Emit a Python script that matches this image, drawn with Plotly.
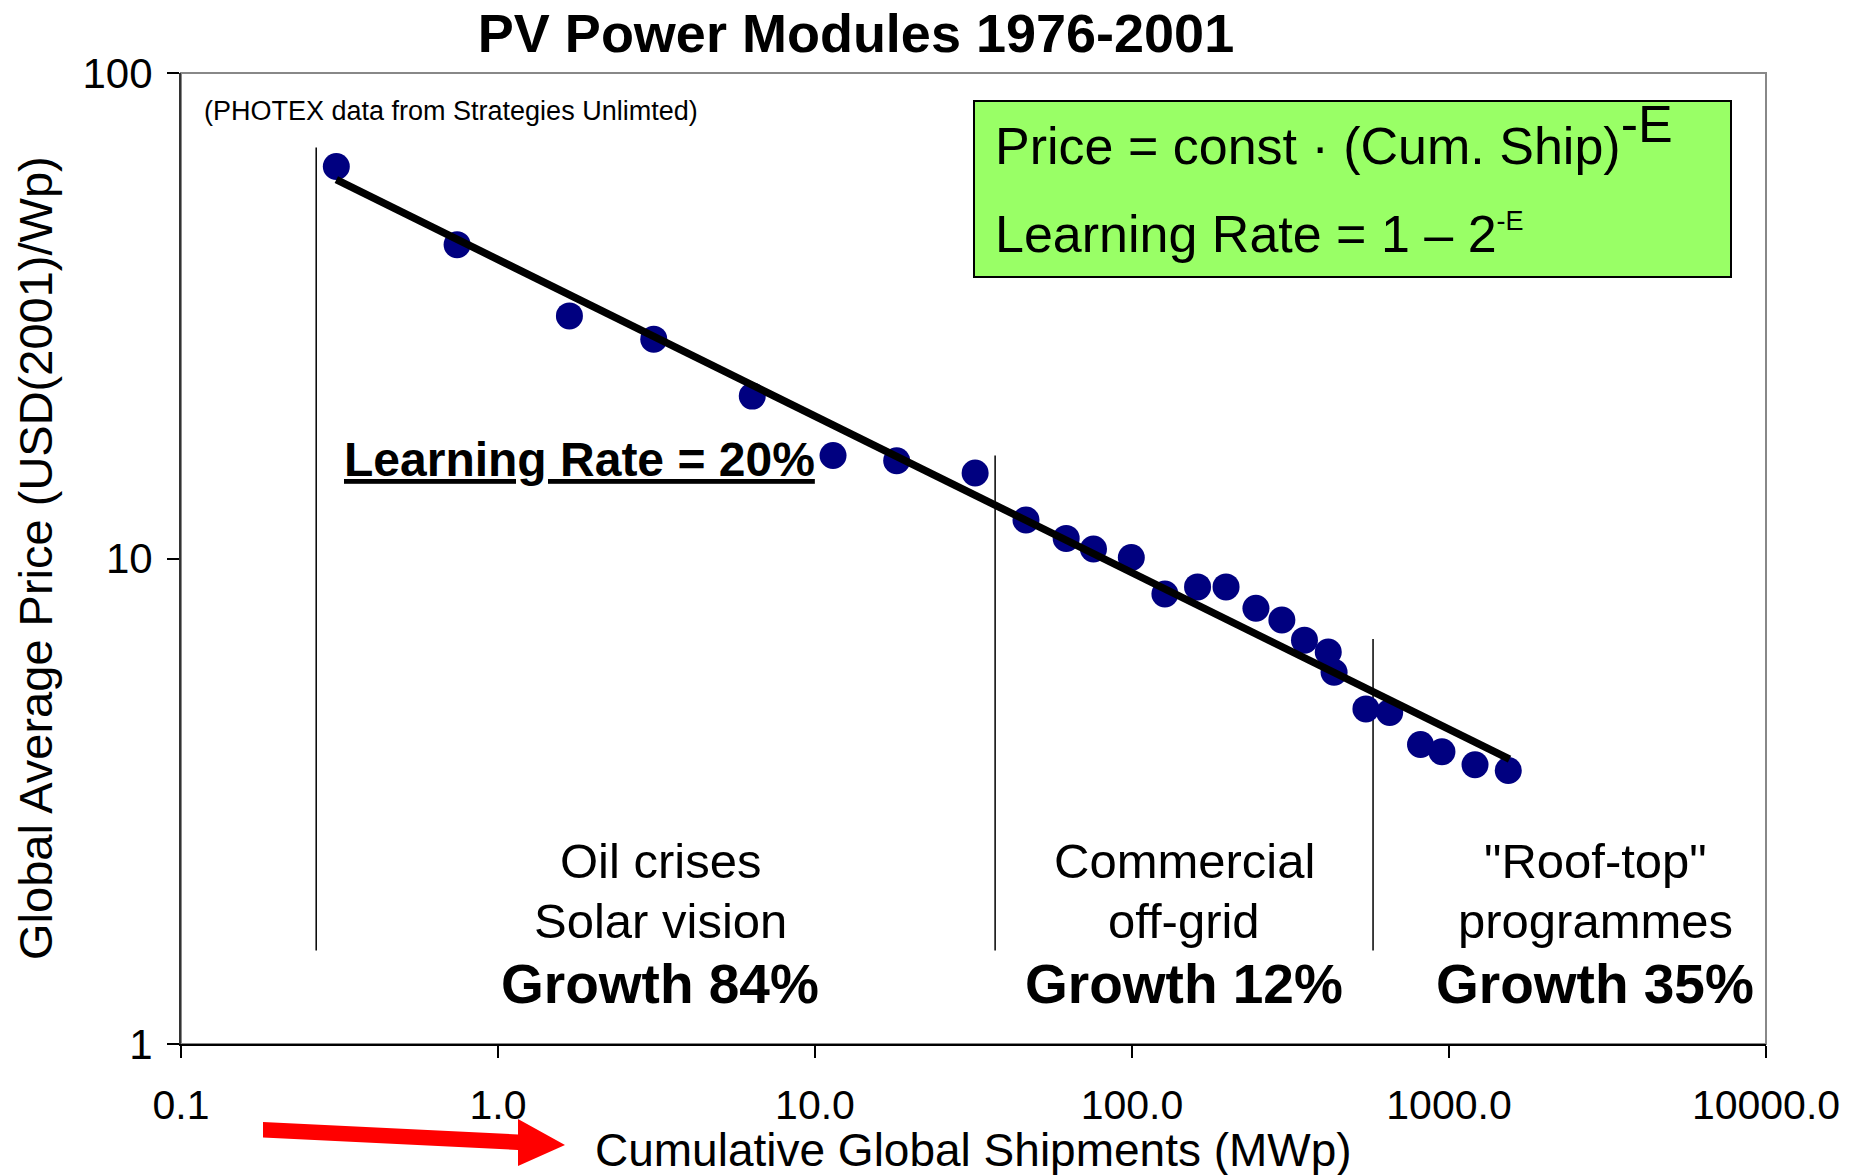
import plotly.graph_objects as go

# ---------------- data ----------------
cum_shipments_mwp = [0.309, 0.743, 1.68, 3.10, 6.34, 11.4, 18.1, 32.0, 46.3, 62.0,
                     75.6, 99.5, 127, 161, 198, 246, 297, 350, 416, 434,
                     547, 650, 813, 950, 1208, 1538]
price_usd_wp = [64.2, 44.3, 31.6, 28.3, 21.6, 16.3, 15.9, 15.0, 12.0, 11.0,
                10.46, 10.05, 8.45, 8.74, 8.74, 7.90, 7.47, 6.79, 6.42, 5.83,
                4.90, 4.82, 4.14, 4.00, 3.76, 3.66]

fit_x = [0.309, 1552]
fit_y = [60.3, 3.86]

phase_x = [0.267, 37.0, 576]
phase_top = [70.2, 16.3, 6.83]
phase_bottom = [1.558, 1.558, 1.558]

x_tickvals = [0.1, 1, 10, 100, 1000, 10000]
x_ticktext = ["0.1", "1.0", "10.0", "100.0", "1000.0", "10000.0"]
y_tickvals = [1, 10, 100]
y_ticktext = ["1", "10", "100"]

phase_lines1 = ["Oil crises", "Commercial", "\"Roof-top\""]
phase_lines2 = ["Solar vision", "off-grid", "programmes"]
phase_growth = ["Growth 84%", "Growth 12%", "Growth 35%"]

# ---------------- layout helpers ----------------
W, H = 1858, 1175
PL, PR, PT, PB = 181, 1766, 73, 1044
FONT = "Arial, Liberation Sans, sans-serif"


def px(fx):
    return (fx - PL) / (PR - PL)


def py(fy):
    return (PB - fy) / (PB - PT)


fig = go.Figure()

# phase boundary lines
for bx, bt, bb in zip(phase_x, phase_top, phase_bottom):
    fig.add_trace(go.Scatter(x=[bx, bx], y=[bb, bt], mode="lines",
                             line=dict(color="black", width=1.5),
                             showlegend=False, hoverinfo="skip"))

# data points
fig.add_trace(go.Scatter(x=cum_shipments_mwp, y=price_usd_wp, mode="markers",
                         marker=dict(color="#000080", size=27, line=dict(width=0)),
                         showlegend=False))

# fit line
fig.add_trace(go.Scatter(x=fit_x, y=fit_y, mode="lines",
                         line=dict(color="black", width=7.5),
                         showlegend=False))

annotations = []


def ann(text, fx, fy, size, xanchor="center", color="black"):
    annotations.append(dict(text=text, x=px(fx), y=py(fy), xref="paper", yref="paper",
                            xanchor=xanchor, yanchor="middle", showarrow=False,
                            font=dict(family=FONT, size=size, color=color)))


ann("(PHOTEX data from Strategies Unlimted)", 202, 111, 27, xanchor="left")
ann("Price = const · (Cum. Ship)<sup><span style='font-size:52px'>-E</span></sup>",
    993, 135, 52, xanchor="left")
ann("Learning Rate = 1 – 2<sup><span style='font-size:27px'>-E</span></sup>",
    993, 234, 52, xanchor="left")
ann("<b><u>Learning Rate = 20%</u></b>", 579, 460, 48)

block_cx = [660, 1184, 1595]
for cx, t1, t2, g in zip(block_cx, phase_lines1, phase_lines2, phase_growth):
    ann(t1, cx, 861, 49)
    ann(t2, cx, 921, 49)
    ann("<b>" + g + "</b>", cx, 984, 55)

# axis titles
ann("Cumulative Global Shipments (MWp)", 973, 1150, 46)
annotations.append(dict(text="Global Average Price (USD(2001)/Wp)", x=px(35), y=py(558),
                        xref="paper", yref="paper", xanchor="center", yanchor="middle",
                        textangle=-90, showarrow=False,
                        font=dict(family=FONT, size=47, color="black")))

shapes = []
# plot-area frame
shapes.append(dict(type="rect", xref="paper", yref="paper", x0=0, x1=1, y0=0, y1=1,
                   line=dict(color="#888888", width=2), layer="below"))
# green formula box
shapes.append(dict(type="rect", xref="paper", yref="paper",
                   x0=px(974), x1=px(1731), y0=py(277), y1=py(101),
                   fillcolor="#99FF66", line=dict(color="black", width=2), layer="below"))
# red arrow
arrow_pts = [(263, 1122), (518, 1134.5), (518, 1119), (565, 1145),
             (518, 1166), (518, 1150), (263, 1137.5)]
path = "M " + " L ".join(f"{px(a):.5f},{py(b):.5f}" for a, b in arrow_pts) + " Z"
shapes.append(dict(type="path", xref="paper", yref="paper", path=path,
                   fillcolor="#FF0000", line=dict(color="#FF0000", width=0)))

fig.update_layout(
    width=W, height=H,
    margin=dict(l=PL, r=W - PR, t=PT, b=H - PB, pad=0),
    paper_bgcolor="white", plot_bgcolor="white",
    title=dict(text="<b>PV Power Modules 1976-2001</b>", x=856 / W, xanchor="center",
               y=1 - 33 / H, yanchor="middle", yref="container",
               font=dict(family=FONT, size=54, color="black")),
    font=dict(family=FONT, color="black"),
    annotations=annotations,
    shapes=shapes,
    showlegend=False,
)

fig.update_xaxes(type="log", range=[-1, 4], tickvals=x_tickvals, ticktext=x_ticktext,
                 showgrid=False, zeroline=False, showline=True, linecolor="black",
                 linewidth=2, ticks="outside", ticklen=12, tickwidth=1.5,
                 tickcolor="black", tickfont=dict(family=FONT, size=41, color="black"),
                 ticklabelstandoff=12)
fig.update_yaxes(type="log", range=[0, 2], tickvals=y_tickvals, ticktext=y_ticktext,
                 showgrid=False, zeroline=False, showline=True, linecolor="#333333",
                 linewidth=2, ticks="outside", ticklen=12, tickwidth=1.5,
                 tickcolor="black", tickfont=dict(family=FONT, size=42, color="black"),
                 ticklabelstandoff=6)

fig.write_html("out.html",
               config={"displayModeBar": False},
               post_script="document.body.style.margin='0';"
                           "document.body.style.overflow='hidden';")
